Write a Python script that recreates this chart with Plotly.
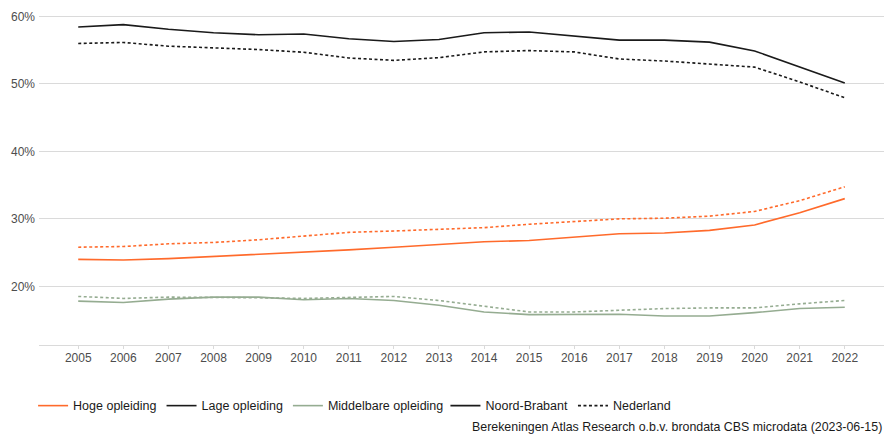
import plotly.graph_objects as go

years = list(range(2005, 2023))

hoge_nb = [24.0, 23.9, 24.1, 24.4, 24.7, 25.0, 25.4, 25.8, 26.2, 26.6, 26.8, 27.3, 27.8, 27.9, 28.3, 29.1, 30.9, 33.0]
hoge_nl = [25.8, 25.9, 26.3, 26.5, 26.9, 27.4, 28.0, 28.2, 28.5, 28.7, 29.2, 29.65, 30.0, 30.1, 30.4, 31.1, 32.7, 34.75]
lage_nb = [58.45, 58.8, 58.1, 57.6, 57.3, 57.4, 56.7, 56.3, 56.6, 57.6, 57.7, 57.1, 56.5, 56.5, 56.2, 54.9, 52.5, 50.15]
lage_nl = [56.0, 56.15, 55.6, 55.4, 55.1, 54.7, 53.85, 53.5, 53.9, 54.75, 54.95, 54.75, 53.7, 53.4, 53.0, 52.5, 50.3, 47.95]
midd_nb = [17.8, 17.6, 18.1, 18.4, 18.4, 18.0, 18.2, 17.9, 17.2, 16.2, 15.8, 15.8, 15.85, 15.6, 15.6, 16.1, 16.7, 16.9]
midd_nl = [18.5, 18.2, 18.4, 18.4, 18.3, 18.2, 18.3, 18.5, 17.9, 17.0, 16.2, 16.2, 16.5, 16.7, 16.8, 16.8, 17.4, 17.9]

y_ticks = [20, 30, 40, 50, 60]
y_labels = ["20%", "30%", "40%", "50%", "60%"]

level_names = ["Hoge opleiding", "Lage opleiding", "Middelbare opleiding"]
region_names = ["Noord-Brabant", "Nederland"]
caption = "Berekeningen Atlas Research o.b.v. brondata CBS microdata (2023-06-15)"

ORANGE = "#FF6A2B"
BLACK = "#1a1a1a"
GREEN = "#95AC91"
DASH = "3px,2.5px"
LW = 1.6
FONT = "Liberation Sans, Arial, sans-serif"

fig = go.Figure()

series = [
    (hoge_nb, ORANGE, "solid"),
    (hoge_nl, ORANGE, DASH),
    (lage_nb, BLACK, "solid"),
    (lage_nl, BLACK, DASH),
    (midd_nb, GREEN, "solid"),
    (midd_nl, GREEN, DASH),
]
for vals, col, dash in series:
    fig.add_trace(go.Scatter(x=years, y=vals, mode="lines",
                             line=dict(color=col, width=LW, dash=dash),
                             showlegend=False, hoverinfo="x+y"))

for name, col in zip(level_names, [ORANGE, BLACK, GREEN]):
    fig.add_trace(go.Scatter(x=[None], y=[None], mode="lines", name=name,
                             line=dict(color=col, width=LW), legend="legend"))
for name, dash in zip(region_names, ["solid", DASH]):
    fig.add_trace(go.Scatter(x=[None], y=[None], mode="lines", name=name,
                             line=dict(color=BLACK, width=LW, dash=dash), legend="legend2"))

fig.update_layout(
    width=886, height=435,
    margin=dict(l=39, r=2, t=8, b=90),
    paper_bgcolor="white", plot_bgcolor="white",
    font=dict(family=FONT, size=12, color="#4d4d4d"),
    xaxis=dict(range=[2004.13, 2022.87], tickmode="array", tickvals=years,
               ticktext=[str(y) for y in years], showgrid=False,
               showline=True, linecolor="#dadada", linewidth=1.2,
               ticks="outside", ticklen=3, tickcolor="#dadada", tickwidth=1,
               ticklabelstandoff=-2,
               tickfont=dict(size=12, color="#4d4d4d"), zeroline=False),
    yaxis=dict(range=[11.3, 61.26], tickmode="array", tickvals=y_ticks,
               ticktext=y_labels, showgrid=True, gridcolor="#dadada", gridwidth=1.3,
               zeroline=False, showline=False, ticks="", ticklabelstandoff=3,
               tickfont=dict(size=12, color="#4d4d4d")),
    legend=dict(orientation="h", x=-0.007, y=-0.181, xanchor="left", yanchor="middle",
                font=dict(size=12.5, color="#1a1a1a"), bgcolor="rgba(0,0,0,0)"),
    legend2=dict(orientation="h", x=0.481, y=-0.181, xanchor="left", yanchor="middle",
                 font=dict(size=12.5, color="#1a1a1a"), bgcolor="rgba(0,0,0,0)"),
    annotations=[dict(text=caption, xref="paper", yref="paper", x=1.0, y=-0.243,
                      xanchor="right", yanchor="middle", showarrow=False,
                      font=dict(size=12.4, color="#1a1a1a"))],
)

fig.write_html("out.html", config={"displayModeBar": False},
               post_script="document.body.style.margin='0px';")
